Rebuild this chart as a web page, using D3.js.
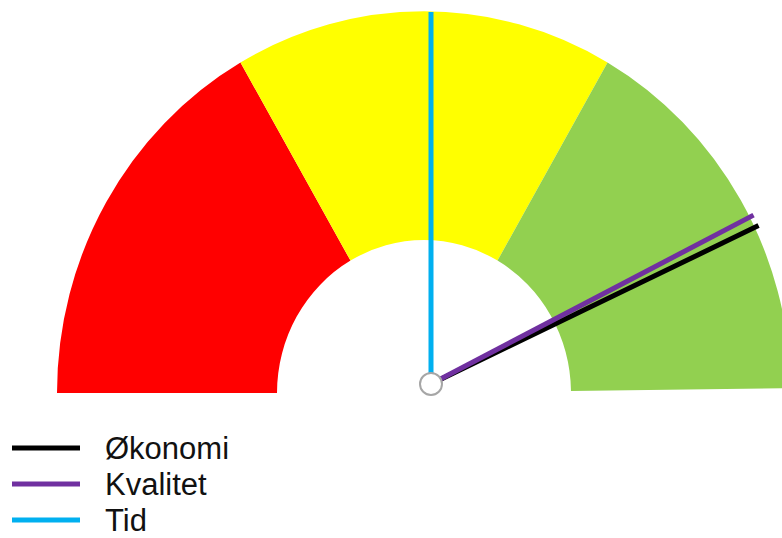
<!DOCTYPE html>
<html>
<head>
<meta charset="utf-8">
<script src="https://cdn.jsdelivr.net/npm/d3@7"></script>
<style>
  body { margin: 0; background: #fff; }
  svg { display: block; font-family: "Liberation Sans", Arial, sans-serif; }
</style>
</head>
<body>
<div id="viz"></div>
<script>
// gauge bands, in percent of the half circle
var bandNames = ["Rød", "Gul", "Grønn"];
var bandStart = [0, 33.33, 66.67];
var bandEnd = [33.33, 66.67, 99.6];

// needles
var series = ["Økonomi", "Kvalitet", "Tid"];
var values = [86, 85, 50];

var w = 782;
var h = 538;

var svg = d3.select("#viz")
    .append("svg")
    .attr("width", w)
    .attr("height", h);

var angle = d3.scaleLinear().domain([0, 100]).range([-Math.PI / 2, Math.PI / 2]);

var arc = d3.arc()
    .innerRadius(147)
    .outerRadius(367)
    .startAngle(function(d, i) { return angle(bandStart[i]); })
    .endAngle(function(d, i) { return angle(bandEnd[i]); });

var gauge = svg.append("g")
    .attr("transform", "translate(424,393) scale(1,1.04)");

gauge.selectAll("path")
    .data(bandNames)
    .enter()
    .append("path")
    .attr("d", arc)
    .attr("fill", function(d, i) { return bandFill(i); });

// needles sit on a pivot a bit off the ring centre
var cx = 431, cy = 384, rx = 362, ry = 372;
var needleAngle = d3.scaleLinear().domain([0, 100]).range([Math.PI, 0]);

var order = [2, 0, 1]; // Tid under, Kvalitet on top
svg.selectAll("line.needle")
    .data(order)
    .enter()
    .append("line")
    .attr("class", "needle")
    .attr("x1", cx)
    .attr("y1", cy)
    .attr("x2", function(i) { return cx + rx * Math.cos(needleAngle(values[i])); })
    .attr("y2", function(i) { return cy - ry * Math.sin(needleAngle(values[i])); })
    .attr("stroke", function(i) { return needleColor(i); })
    .attr("stroke-width", 5);

svg.append("circle")
    .attr("cx", cx)
    .attr("cy", cy)
    .attr("r", 11)
    .attr("fill", "#fff")
    .attr("stroke", "#a6a6a6")
    .attr("stroke-width", 2);

// legend
var legend = svg.selectAll("g.legend")
    .data(series)
    .enter()
    .append("g")
    .attr("class", "legend")
    .attr("transform", function(d, i) { return "translate(0," + (459 + i * 36) + ")"; });

legend.append("line")
    .attr("x1", 12)
    .attr("x2", 80)
    .attr("y1", -11)
    .attr("y2", -11)
    .attr("stroke", function(d, i) { return needleColor(i); })
    .attr("stroke-width", 5);

legend.append("text")
    .attr("x", 105)
    .attr("y", 0)
    .attr("font-size", 31)
    .attr("fill", "#111")
    .text(function(d) { return d; });

function bandFill(index) {
    if (index === 0) { return "#ff0000" }
    if (index === 1) { return "#ffff00" }
    if (index === 2) { return "#92d050" }
}

function needleColor(index) {
    if (index === 0) { return "#000000" }
    if (index === 1) { return "#7030a0" }
    if (index === 2) { return "#00b0f0" }
}
</script>
</body>
</html>
